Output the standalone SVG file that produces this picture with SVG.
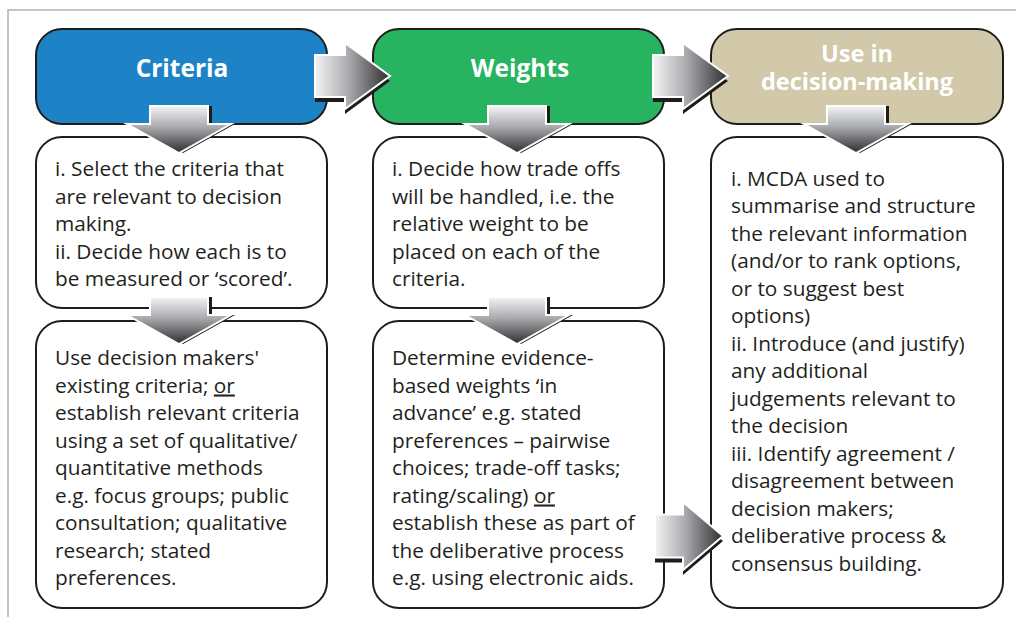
<svg xmlns="http://www.w3.org/2000/svg" width="1016" height="617" viewBox="0 0 1016 617">
<defs>
<linearGradient id="gh" x1="0" y1="0" x2="1" y2="0">
<stop offset="0" stop-color="#f4f4f5"/>
<stop offset="0.45" stop-color="#a9aaad"/>
<stop offset="1" stop-color="#2e2d30"/>
</linearGradient>
<linearGradient id="gv" x1="0" y1="0" x2="0" y2="1">
<stop offset="0" stop-color="#f4f4f5"/>
<stop offset="0.45" stop-color="#a9aaad"/>
<stop offset="1" stop-color="#2e2d30"/>
</linearGradient>
<path id="ah" d="M0,-21 L30,-21 L30,-33 L75,0 L30,33 L30,21 L0,21 Z"/>
<path id="ah2" d="M0,-21.5 L28,-21.5 L28,-34 L68,0 L28,34 L28,21.5 L0,21.5 Z"/>
<path id="av" d="M-29,0 L29,0 L29,18 L52,18 L0,47 L-52,18 L-29,18 Z"/>
</defs>
<style>
.frame{fill:none;stroke:#b3b3b3;stroke-width:1.5}
.hdr{stroke:#1d1d1b;stroke-width:2}
.box{fill:#fff;stroke:#1d1d1b;stroke-width:2}
.ht{font-family:"Open Sans","Noto Sans",sans-serif;font-weight:bold;font-size:24.5px;fill:#fff;text-anchor:middle}
.ht2{font-family:"Open Sans","Noto Sans",sans-serif;font-weight:bold;font-size:23.5px;fill:#fff;text-anchor:middle}
.bt{font-family:"Open Sans","Noto Sans",sans-serif;font-size:20.8px;fill:#231f20}
.sh{fill:#1d1d1b}
.ahf{fill:url(#gh);stroke:#fff;stroke-width:2;stroke-linejoin:miter}
.avf{fill:url(#gv);stroke:#fff;stroke-width:2;stroke-linejoin:miter}
.u{text-decoration:underline}
</style>
<rect class="frame" x="8" y="10" width="1030" height="640"/>

<g id="criteria-header">
<rect class="hdr" x="36" y="29" width="291" height="95" rx="26" fill="#1e83c6"/>
<text class="ht" x="182" y="77">Criteria</text>
</g>
<g id="weights-header">
<rect class="hdr" x="373" y="29" width="291" height="95" rx="26" fill="#27b35f"/>
<text class="ht" x="520" y="77">Weights</text>
</g>
<g id="use-header">
<rect class="hdr" x="711" y="29" width="292" height="95" rx="26" fill="#d1c9a9"/>
<text class="ht2"><tspan x="857" y="62">Use in</tspan><tspan x="857" y="90">decision-making</tspan></text>
</g>

<g id="criteria-step1">
<rect class="box" x="36" y="137" width="291" height="171" rx="26"/>
<text class="bt" x="55" y="176">i. Select the criteria that</text>
<text class="bt" x="55" y="203.5">are relevant to decision</text>
<text class="bt" x="55" y="231">making.</text>
<text class="bt" x="55" y="258.5">ii. Decide how each is to</text>
<text class="bt" x="55" y="286">be measured or ‘scored’.</text>
</g>
<g id="criteria-step2">
<rect class="box" x="36" y="321" width="291" height="287" rx="26"/>
<text class="bt" x="55" y="365">Use decision makers'</text>
<text class="bt" x="55" y="392.5">existing criteria; <tspan class="u">or</tspan></text>
<text class="bt" x="55" y="420">establish relevant criteria</text>
<text class="bt" x="55" y="447.5">using a set of qualitative/</text>
<text class="bt" x="55" y="475">quantitative methods</text>
<text class="bt" x="55" y="502.5">e.g. focus groups; public</text>
<text class="bt" x="55" y="530">consultation; qualitative</text>
<text class="bt" x="55" y="557.5">research; stated</text>
<text class="bt" x="55" y="585">preferences.</text>
</g>

<g id="weights-step1">
<rect class="box" x="373" y="137" width="291" height="171" rx="26"/>
<text class="bt" x="392" y="176">i. Decide how trade offs</text>
<text class="bt" x="392" y="203.5">will be handled, i.e. the</text>
<text class="bt" x="392" y="231">relative weight to be</text>
<text class="bt" x="392" y="258.5">placed on each of the</text>
<text class="bt" x="392" y="286">criteria.</text>
</g>
<g id="weights-step2">
<rect class="box" x="373" y="321" width="291" height="287" rx="26"/>
<text class="bt" x="392" y="365">Determine evidence-</text>
<text class="bt" x="392" y="392.5">based weights ‘in</text>
<text class="bt" x="392" y="420">advance’ e.g. stated</text>
<text class="bt" x="392" y="447.5">preferences – pairwise</text>
<text class="bt" x="392" y="475">choices; trade-off tasks;</text>
<text class="bt" x="392" y="502.5">rating/scaling) <tspan class="u">or</tspan></text>
<text class="bt" x="392" y="530">establish these as part of</text>
<text class="bt" x="392" y="557.5">the deliberative process</text>
<text class="bt" x="392" y="585">e.g. using electronic aids.</text>
</g>

<g id="use-step">
<rect class="box" x="711" y="137" width="292" height="471" rx="26"/>
<text class="bt" x="731" y="185.5">i. MCDA used to</text>
<text class="bt" x="731" y="213">summarise and structure</text>
<text class="bt" x="731" y="240.5">the relevant information</text>
<text class="bt" x="731" y="268">(and/or to rank options,</text>
<text class="bt" x="731" y="295.5">or to suggest best</text>
<text class="bt" x="731" y="323">options)</text>
<text class="bt" x="731" y="350.5">ii. Introduce (and justify)</text>
<text class="bt" x="731" y="378">any additional</text>
<text class="bt" x="731" y="405.5">judgements relevant to</text>
<text class="bt" x="731" y="433">the decision</text>
<text class="bt" x="731" y="460.5">iii. Identify agreement /</text>
<text class="bt" x="731" y="488">disagreement between</text>
<text class="bt" x="731" y="515.5">decision makers;</text>
<text class="bt" x="731" y="543">deliberative process &amp;</text>
<text class="bt" x="731" y="570.5">consensus building.</text>
</g>

<g id="connectors">
<g transform="translate(315,76)"><use href="#ah" class="sh" transform="translate(0,5)"/><use href="#ah" class="ahf"/></g>
<g transform="translate(653,76)"><use href="#ah" class="sh" transform="translate(0,5)"/><use href="#ah" class="ahf"/></g>
<g transform="translate(655,536)"><use href="#ah2" class="sh" transform="translate(0,5)"/><use href="#ah2" class="ahf"/></g>
<g transform="translate(179,106)"><use href="#av" class="sh" transform="translate(4,0)"/><use href="#av" class="avf"/></g>
<g transform="translate(517,106)"><use href="#av" class="sh" transform="translate(4,0)"/><use href="#av" class="avf"/></g>
<g transform="translate(856,106)"><use href="#av" class="sh" transform="translate(4,0)"/><use href="#av" class="avf"/></g>
<g transform="translate(179,297)"><use href="#av" class="sh" transform="translate(4,0)"/><use href="#av" class="avf"/></g>
<g transform="translate(517,297)"><use href="#av" class="sh" transform="translate(4,0)"/><use href="#av" class="avf"/></g>
</g>
</svg>
